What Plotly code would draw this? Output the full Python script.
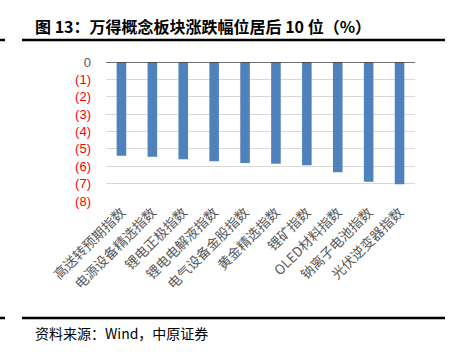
import plotly.graph_objects as go

categories = ["高送转预期指数", "电源设备精选指数", "锂电正极指数", "锂电电解液指数",
              "电气设备金股指数", "黄金精选指数", "锂矿指数", "OLED材料指数",
              "钠离子电池指数", "光伏逆变器指数"]
values = [-5.39, -5.46, -5.60, -5.71, -5.81, -5.85, -5.94, -6.35, -6.89, -7.04]
tick_vals = [0, -1, -2, -3, -4, -5, -6, -7, -8]
tick_text = ["0", "(1)", "(2)", "(3)", "(4)", "(5)", "(6)", "(7)", "(8)"]
title_text = "图 13：万得概念板块涨跌幅位居后 10 位（%）"
source_text = "资料来源：Wind，中原证券"

W, H = 452, 352
L, R, T, B = 106, 37, 62, 151
pw, ph = W - L - R, H - T - B

def px(x):
    return (x - L) / pw

def py(y):
    return 1 - (y - T) / ph

tick_html = [t if t == "0" else f'<span style="color:#FF0000">{t}</span>' for t in tick_text]

fig = go.Figure()
fig.add_trace(go.Bar(x=categories, y=values, marker=dict(color="#4F81BD", line=dict(width=0)),
                     width=0.31))

font_cjk = "Noto Sans CJK SC, sans-serif"

fig.update_layout(
    width=W, height=H,
    margin=dict(l=L, r=R, t=T, b=B),
    paper_bgcolor="white", plot_bgcolor="white",
    showlegend=False,
    font=dict(family=font_cjk, color="#595959"),
    xaxis=dict(showgrid=False, showline=False, ticks="", tickangle=-45,
               tickfont=dict(size=13.5, color="#595959", family=font_cjk)),
    yaxis=dict(range=[-8, 0.001], tickvals=tick_vals, ticktext=tick_html,
               showgrid=True, gridcolor="#D9D9D9", gridwidth=1,
               zeroline=False, showline=False, ticks="",
               ticklabelstandoff=14,
               tickfont=dict(size=13, color="#595959", family="Liberation Sans, Arial")),
    shapes=[
        dict(type="line", xref="paper", yref="y", x0=0, x1=1, y0=0, y1=0,
             line=dict(color="#404040", width=1.5)),
        dict(type="line", xref="paper", yref="paper", x0=px(22), x1=px(445), y0=py(40), y1=py(40),
             line=dict(color="#000000", width=2.5)),
        dict(type="line", xref="paper", yref="paper", x0=px(0), x1=px(5), y0=py(40), y1=py(40),
             line=dict(color="#000000", width=2.5)),
        dict(type="line", xref="paper", yref="paper", x0=px(22), x1=px(445), y0=py(318), y1=py(318),
             line=dict(color="#000000", width=2.5)),
        dict(type="line", xref="paper", yref="paper", x0=px(0), x1=px(5), y0=py(318), y1=py(318),
             line=dict(color="#000000", width=2.5)),
    ],
    annotations=[
        dict(text=f"<b>{title_text}</b>", xref="paper", yref="paper", x=px(33), y=py(26),
             xanchor="left", yanchor="middle", showarrow=False,
             font=dict(size=16, color="#000000", family=font_cjk)),
        dict(text=source_text, xref="paper", yref="paper", x=px(33), y=py(333),
             xanchor="left", yanchor="middle", showarrow=False,
             font=dict(size=14, color="#000000", family=font_cjk)),
    ],
)

fig.write_html("out.html")
